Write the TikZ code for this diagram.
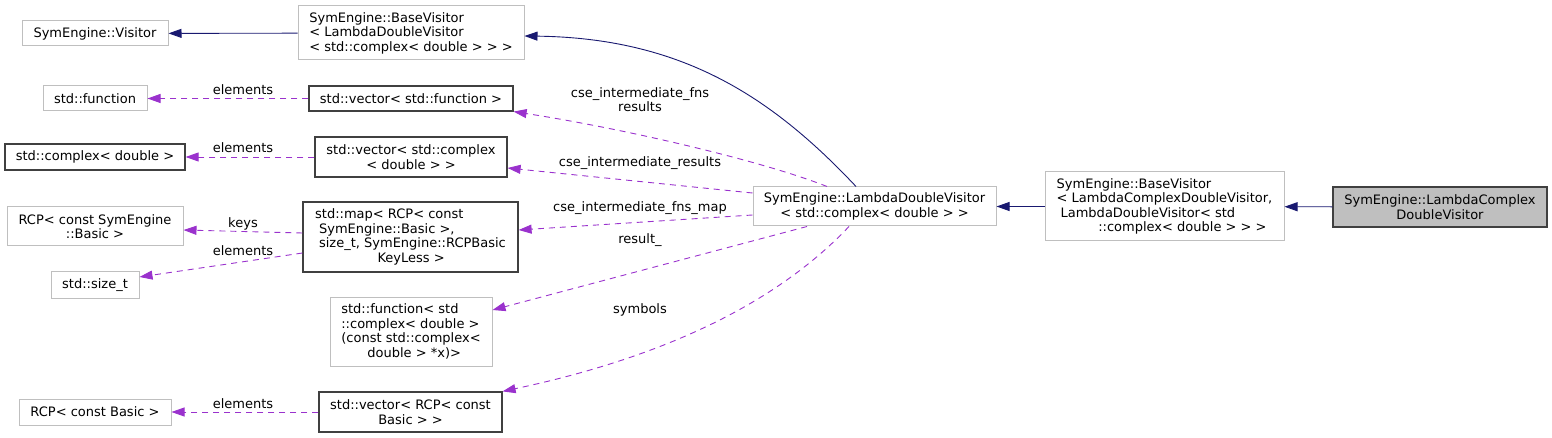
\documentclass[tikz,border=0pt]{standalone}
\usepackage{fontspec}
\setmainfont{DejaVu Sans}
\usepackage{tikz}
\usetikzlibrary{arrows.meta}

\definecolor{edgenavy}{HTML}{191970}
\definecolor{edgepurple}{HTML}{9A32CD}
\definecolor{boxgray}{HTML}{BFBFBF}
\definecolor{boxdark}{HTML}{404040}

\begin{document}
\begin{tikzpicture}[x=1pt, y=-1pt,
    font=\fontsize{13}{14.5}\selectfont,
    undoc/.style={draw=boxgray, line width=1pt, rectangle, inner sep=2pt},
    doc/.style={draw=boxdark, line width=1.2pt, rectangle, inner sep=2pt},
    current/.style={doc, fill=boxgray},
    inherit/.style={draw=edgenavy, line width=0.9pt, -{Triangle[length=13pt, width=9pt]}},
    member/.style={draw=edgepurple, line width=0.9pt, dash pattern=on 6pt off 5pt, -{Triangle[length=13pt, width=9pt]}},
    elabel/.style={inner sep=0pt, align=center}]
    \useasboundingbox (0,0) rectangle (1552,438);

    \node[undoc, minimum width=146pt, minimum height=25pt] (visitor) at (95,33.5) {SymEngine::Visitor};
    \node[undoc, align=left, minimum width=226pt, minimum height=54pt] (bv1) at (411,33) {
        SymEngine::BaseVisitor\\
        < LambdaDoubleVisitor\\
        < std::complex< double > > >
    };

    \node[undoc, minimum width=104pt, minimum height=25pt] (fn) at (95,98.5) {std::function};
    \node[doc, minimum width=204pt, minimum height=25pt] (vecfn) at (411,98.5) {std::vector< std::function >};

    \node[doc, minimum width=180pt, minimum height=26pt] (cplx) at (95,157) {std::complex< double >};
    \node[doc, align=center, minimum width=192pt, minimum height=40pt] (veccplx) at (411,157) {
        std::vector< std::complex\\
        < double > >
    };

    \node[undoc, align=center, minimum width=176pt, minimum height=39pt] (rcpsym) at (95,226.5) {
        RCP< const SymEngine\\
        ::Basic >
    };
    \node[doc, align=left, minimum width=215pt, minimum height=70pt] (map) at (410.5,237) {
        std::map< RCP< const\\
        \hspace*{0.3em}SymEngine::Basic >,\\
        \hspace*{0.3em}size\_t, SymEngine::RCPBasic\\
        \hspace*{4.8em}KeyLess >
    };
    \node[undoc, minimum width=88pt, minimum height=26pt] (sizet) at (95,285) {std::size\_t};

    \node[undoc, align=left, minimum width=162pt, minimum height=69pt] (fncplx) at (411,331.5) {
        std::function< std\\
        ::complex< double >\\
        (const std::complex<\\
        \hspace*{2em}double > *x)>
    };

    \node[undoc, minimum width=152pt, minimum height=26pt] (rcpbasic) at (95,412) {RCP< const Basic >};
    \node[doc, align=center, minimum width=183pt, minimum height=40pt] (vecrcp) at (410.5,412) {
        std::vector< RCP< const\\
        Basic > >
    };

    \node[undoc, align=center, minimum width=243pt, minimum height=39pt] (ldv) at (874.5,206.5) {
        SymEngine::LambdaDoubleVisitor\\
        < std::complex< double > >
    };
    \node[undoc, align=left, minimum width=239pt, minimum height=69pt] (bv2) at (1164.5,206.5) {
        SymEngine::BaseVisitor\\
        < LambdaComplexDoubleVisitor,\\
        \hspace*{0.3em}LambdaDoubleVisitor< std\\
        \hspace*{3.2em}::complex< double > > >
    };
    \node[current, align=center, minimum width=214pt, minimum height=40pt] (lcdv) at (1440,207) {
        SymEngine::LambdaComplex\\
        DoubleVisitor
    };

    \draw[inherit] (bv1) -- (visitor);
    \draw[inherit] ([xshift=-18.5pt]ldv.north) .. controls (770,95) and (680,38) .. ([yshift=-3pt]bv1.east);
    \draw[inherit] (bv2) -- (ldv);
    \draw[inherit] (lcdv) -- (bv2);

    \draw[member] ([xshift=-47.5pt]ldv.north) .. controls (760,160) and (620,128) .. (vecfn.south east)
        node[elabel] at (640,99.5) {cse\_intermediate\_fns\\results};
    \draw[member] ([yshift=13.5pt]ldv.west) -- ([yshift=-11pt]veccplx.east)
        node[elabel] at (640,163) {cse\_intermediate\_results};
    \draw[member] ([yshift=-8.5pt]ldv.west) -- ([yshift=7pt]map.east)
        node[elabel] at (640,208) {cse\_intermediate\_fns\_map};
    \draw[member] ([xshift=-67.5pt]ldv.south) -- ([yshift=21.5pt]fncplx.east)
        node[elabel] at (640,240) {result\_};
    \draw[member] ([xshift=-25.5pt]ldv.south) .. controls (770,310) and (650,360) .. (vecrcp.north east)
        node[elabel] at (640,310) {symbols};

    \draw[member] (vecfn) -- (fn) node[elabel] at (243,90) {elements};
    \draw[member] (veccplx) -- (cplx) node[elabel] at (243,148) {elements};
    \draw[member] ([yshift=4pt]map.west) -- ([yshift=-3.5pt]rcpsym.east) node[elabel] at (243,224) {keys};
    \draw[member] ([yshift=-16pt]map.west) -- ([yshift=8pt]sizet.east) node[elabel] at (243,251) {elements};
    \draw[member] (vecrcp) -- (rcpbasic) node[elabel] at (243,404) {elements};
\end{tikzpicture}
\end{document}
